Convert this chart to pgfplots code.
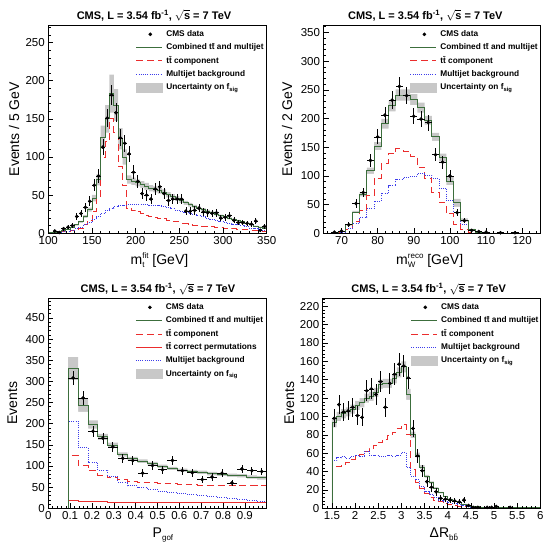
\documentclass[border=0pt]{standalone}
\usepackage{fontspec}
\setmainfont{Liberation Sans}
\usepackage{pgfplots}
\usepackage{pgfplotstable}
\pgfplotsset{compat=1.18}
\definecolor{cgreen}{RGB}{60,110,60}
\definecolor{cred}{RGB}{235,45,45}
\definecolor{cblue}{RGB}{60,60,235}
\definecolor{cband}{RGB}{200,200,200}
\newcommand{\lsub}[1]{\raisebox{-3pt}{\fontsize{8}{8}\selectfont #1}}
\newcommand{\lsup}[1]{\raisebox{6.5pt}{\fontsize{8}{8}\selectfont #1}}

% ---------- panel 1 : m_t^fit ----------
\pgfplotstableread{
x y ex ey
107.5 3 2.5 1.7
112.5 1 2.5 1.0
117.5 6 2.5 2.4
122.5 8 2.5 2.8
127.5 10 2.5 3.2
132.5 22 2.5 4.7
137.5 26 2.5 5.1
142.5 34 2.5 5.8
147.5 42 2.5 6.5
152.5 63 2.5 7.9
157.5 75 2.5 8.7
162.5 113 2.5 10.6
167.5 151 2.5 12.3
172.5 181 2.5 13.5
177.5 158 2.5 12.6
182.5 125 2.5 11.2
187.5 118 2.5 10.9
192.5 104 2.5 10.2
197.5 80 2.5 8.9
202.5 68 2.5 8.2
207.5 52 2.5 7.2
212.5 50 2.5 7.1
217.5 45 2.5 6.7
222.5 58 2.5 7.6
227.5 61 2.5 7.8
232.5 52 2.5 7.2
237.5 43 2.5 6.6
242.5 45 2.5 6.7
247.5 45 2.5 6.7
252.5 45 2.5 6.7
257.5 29 2.5 5.4
262.5 29 2.5 5.4
267.5 30 2.5 5.5
272.5 33 2.5 5.7
277.5 28 2.5 5.3
282.5 27 2.5 5.2
287.5 26 2.5 5.1
292.5 27 2.5 5.2
297.5 20 2.5 4.5
302.5 21 2.5 4.6
307.5 23 2.5 4.8
312.5 17 2.5 4.1
317.5 14 2.5 3.7
322.5 14 2.5 3.7
327.5 13 2.5 3.6
332.5 12 2.5 3.5
337.5 16 2.5 4.0
342.5 4 2.5 2.0
347.5 9 2.5 3.0
}\dataA
\pgfplotstableread{
e tt mj comb lo hi
100 0.5 0.5 1 0.5 1.5
105 0.8 0.8 1.6 1.1 2.1
110 1.2 1.2 2.4 1.9 2.9
115 1.8 1.8 3.6 3.1 4.1
120 2.5 2.8 5.3 4.6 6.0
125 3.5 4 7.5 6.7 8.3
130 5 6 11 10 12
135 7 8 15 13.8 16.2
140 11 11 22 20.2 23.8
145 17 14 31 28.4 33.6
150 28 18 46 41.8 50.2
155 48 22 70 62.8 77.2
160 100 26 126 111 141
165 120 30 150 132 168
170 150 33 183 158 208
175 132 35 167 147 189
180 88 36 124 110 138
185 63 37 100 90 110
190 33 37.5 70.5 65 76
195 30 38 68 63 73
200 28 38 66 61.5 70.5
205 26 38 64 59.5 68.5
210 24 37.5 61.5 57 66
215 22 37 59 55 63
220 21 36.5 57.5 53.5 61.5
225 20 36 56 52 60
230 19 35 54 50.3 57.7
235 17 33.5 50.5 47 54
240 16 32 48 44.7 51.3
245 15 30.5 45.5 42.4 48.6
250 13.5 29 42.5 39.7 45.3
255 12.5 27.5 40 37.4 42.6
260 11.5 26 37.5 35.1 39.9
265 10.5 24.5 35 32.8 37.2
270 10 23 33 31 35
275 9.5 21.5 31 29.1 32.9
280 9 20 29 27.2 30.8
285 8.5 18.5 27 25.3 28.7
290 8 17 25 23.4 26.6
295 7.5 15.5 23 21.5 24.5
300 7 14.5 21.5 20.1 22.9
305 6.5 13 19.5 18.2 20.8
310 6 12 18 16.8 19.2
315 5.5 11 16.5 15.4 17.6
320 5 10 15 14 16
325 4.5 8.5 13 12.1 13.9
330 4 7 11 10.2 11.8
335 3.5 6 9.5 8.8 10.2
340 3 5 8 7.4 8.6
345 2.5 4 6.5 6 7
350 2.5 4 6.5 6 7
}\modA

% ---------- panel 2 : m_W^reco ----------
\pgfplotstableread{
x y ex ey
68 2 1 1.4
70 4 1 2.0
72 15 1 3.9
74 52 1 7.2
76 71 1 8.4
78 127 1 11.3
80 168 1 13.0
82 206 1 14.4
84 232 1 15.2
86 256 1 16.0
88 240 1 15.5
90 204 1 14.3
92 199 1 14.1
94 193 1 13.9
96 137 1 11.7
98 124 1 11.1
100 100 1 10.0
102 36 1 6.0
104 22 1 4.7
106 5 1 2.2
108 3 1 1.7
110 2 1 1.4
114 1 1 1.0
118 1 1 1.0
}\dataB
\pgfplotstableread{
e tt mj comb lo hi
65 0 0 0 0 0
67 0.3 0.3 0.6 0.4 0.8
69 1.5 1.5 3 2.5 3.5
71 7 8 15 14 16
73 20 17 37 35 39
75 40 28 68 64.5 71.5
77 66 43 109 103.5 114.5
79 96 56 152 145 159
81 121 70 191 182.5 199.5
83 139 83 222 212.5 231.5
85 147 94 241 231 251
87 143 98 241 231 251
89 134 99 233 223.5 242.5
91 115 104 219 210.5 227.5
93 96 101 197 189.5 204.5
95 72 96 168 161 175
97 53 79 132 125 139
99 34 57 91 84 98
101 16 37 53 46 60
103 7 16 23 20 26
105 2 4.5 6.5 5.5 7.5
107 0.7 1.3 2 1.6 2.4
109 0.3 0.7 1 0.8 1.2
111 0.2 0.3 0.5 0.4 0.6
113 0.1 0.1 0.2 0.15 0.25
115 0.1 0.1 0.2 0.15 0.25
117 0.1 0.1 0.2 0.15 0.25
119 0.1 0.1 0.2 0.15 0.25
121 0.1 0.1 0.2 0.15 0.25
123 0.1 0.1 0.2 0.15 0.25
125 0.1 0.1 0.2 0.15 0.25
}\modB

% ---------- panel 3 : P_gof ----------
\pgfplotstableread{
x y ex ey
0.1136 308 0.0227 17.5
0.1591 261 0.0227 16.2
0.2045 182 0.0227 13.5
0.2500 166 0.0227 12.9
0.2955 145 0.0227 12.0
0.3409 118 0.0227 10.9
0.3864 113 0.0227 10.6
0.4318 83 0.0227 9.1
0.4773 101 0.0227 10.0
0.5227 91 0.0227 9.5
0.5682 113 0.0227 10.6
0.6136 89 0.0227 9.4
0.6591 84 0.0227 9.2
0.7045 68 0.0227 8.2
0.7500 74 0.0227 8.6
0.7955 83 0.0227 9.1
0.8409 60 0.0227 7.7
0.8864 93 0.0227 9.6
0.9318 89 0.0227 9.4
0.9773 87 0.0227 9.3
}\dataC
\pgfplotstableread{
e tt ttc mj comb lo hi
0 0 0 0 0 0 0
0.04545 0 0 0 0 0 0
0.09091 126 18 206 330 303 357
0.13636 101 17 143 243 228 258
0.18182 89 16 109 198 188 208
0.22727 78 16 90 169 162 176
0.27273 72 15 76 149 143 155
0.31818 67 15 62 127 122 132
0.36364 64 15 53 117 112.5 121.5
0.40909 62 14 49 111 106.5 115.5
0.45455 60 14 45 105 100.5 109.5
0.50000 59 14 41 99 95 103
0.54545 58 14 37 94 90 98
0.59091 57 14 34 90 86 94
0.63636 56 13 32 87 83 91
0.68182 55 13 30 85 81 89
0.72727 55 13 27.5 82 78 86
0.77273 54 13 25.5 80 76 84
0.81818 54 13 23.5 78 74 82
0.86364 53 13 21.5 77 73 81
0.90909 53 13 19 74 70 78
0.95455 53 13 17 72 68 76
1.00000 53 13 17 72 68 76
}\modC

% ---------- panel 4 : Delta R_bb ----------
\pgfplotstableread{
x y ex ey
1.55 98 0.05 9.9
1.65 113 0.05 10.6
1.75 105 0.05 10.2
1.85 106 0.05 10.3
1.95 110 0.05 10.5
2.05 101 0.05 10.0
2.15 99 0.05 9.9
2.25 128 0.05 11.3
2.35 130 0.05 11.4
2.45 124 0.05 11.1
2.55 138 0.05 11.7
2.65 110 0.05 10.5
2.75 136 0.05 11.7
2.85 146 0.05 12.1
2.95 157 0.05 12.5
3.05 155 0.05 12.4
3.15 142 0.05 11.9
3.25 87 0.05 9.3
3.35 57 0.05 7.5
3.45 41 0.05 6.4
3.55 29 0.05 5.4
3.65 23 0.05 4.8
3.75 18 0.05 4.2
3.85 11 0.05 3.3
3.95 10 0.05 3.2
4.05 9 0.05 3.0
4.15 8 0.05 2.8
4.25 7 0.05 2.6
4.35 9 0.05 3.0
4.45 3 0.05 1.7
4.55 1 0.05 1.0
4.65 1 0.05 1.0
4.85 1 0.05 1.0
4.95 1 0.05 1.0
5.05 2 0.05 1.4
5.35 1 0.05 1.0
}\dataD
\pgfplotstableread{
e tt mj comb lo hi
1.3 0 0 0 0 0
1.4 0 0 0 0 0
1.5 44 52 93 88 98
1.6 46 55 100 95 105
1.7 48 56 103 98 108
1.8 50 54 105 100 110
1.9 53 56 108 103 113
2.0 56 58 112 107 117
2.1 59 57 115 110 120
2.2 62 62 120 115 125
2.3 65 58 122 117 127
2.4 68 58 126 121 131
2.5 72 57 135 130 140
2.6 75 57 136 131 141
2.7 79 58 136 131 141
2.8 83 57 141 136 146
2.9 87 58 148 142.5 153.5
3.0 91 61 154 148 160
3.1 80 45 124 118 130
3.2 42 35 80 76.5 83.5
3.3 28 31 58 55.5 60.5
3.4 22 24 45 43 47
3.5 16 18 35 33.5 36.5
3.6 12 15 28 26.8 29.2
3.7 9 12 22 21 23
3.8 7 9 17 16.2 17.8
3.9 5 7 13 12.4 13.6
4.0 4 6 10 9.5 10.5
4.1 3 5 8 7.6 8.4
4.2 2.5 4 6 5.7 6.3
4.3 2 3 4.5 4.3 4.7
4.4 1.5 2 3 2.8 3.2
4.5 1 1.3 2 1.9 2.1
4.6 0.7 0.8 1.5 1.4 1.6
4.7 0.5 0.5 1 0.95 1.05
4.8 0.3 0.3 0.6 0.55 0.65
4.9 0.2 0.2 0.4 0.35 0.45
5.0 0.2 0.2 0.4 0.35 0.45
5.1 0.2 0.2 0.4 0.35 0.45
5.2 0.2 0.2 0.4 0.35 0.45
5.3 0.2 0.2 0.4 0.35 0.45
5.4 0.2 0.2 0.4 0.35 0.45
5.5 0.2 0.2 0.4 0.35 0.45
5.6 0.2 0.2 0.4 0.35 0.45
5.7 0.2 0.2 0.4 0.35 0.45
5.8 0.2 0.2 0.4 0.35 0.45
5.9 0.2 0.2 0.4 0.35 0.45
6.0 0.2 0.2 0.4 0.35 0.45
}\modD

\pgfplotsset{
  cms/.style={
    scale only axis, axis on top,
    axis line style={line width=0.7pt, black},
    tick pos=left, tick align=inside,
    major tick length=5pt, minor tick length=2.5pt,
    every tick/.style={black, line width=0.5pt},
    ticklabel style={font=\fontsize{11.5}{13}\selectfont},
    /pgf/number format/assume math mode=true,
    scaled ticks=false,
    label style={font=\fontsize{14}{17}\selectfont},
    ylabel style={anchor=center},
    xlabel style={anchor=base},
    every axis title shift=0pt,
    title style={font=\bfseries\fontsize{11}{13}\selectfont, anchor=center},
    legend cell align=left,
    legend style={draw=none, fill=none, anchor=north west, inner sep=0pt,
      font=\bfseries\fontsize{8.3}{10}\selectfont,
      row sep=3.8pt, column sep=3pt,
      nodes={inner sep=0.5pt, text height=6.5pt, text depth=2pt}},
    legend image code/.code={\draw[#1] (0pt,0pt) -- (26pt,0pt);},
  },
  legdata/.style={only marks, mark=*, mark size=1.6pt, black,
    legend image code/.code={\draw[mark repeat=2,mark phase=2,##1] plot coordinates {(0pt,0pt) (14pt,0pt) (26pt,0pt)};}},
  legband/.style={legend image code/.code={\fill[cband] (0pt,-4.5pt) rectangle (26pt,4.5pt);}},
  greenl/.style={cgreen, line width=0.9pt},
  redl/.style={cred, line width=0.9pt, dash pattern=on 7pt off 4pt},
  reds/.style={cred, line width=0.9pt},
  bluel/.style={cblue, line width=0.9pt, dash pattern=on 1pt off 1.2pt},
  bandhi/.style={ybar interval, fill=cband, draw=none, forget plot},
  bandlo/.style={ybar interval, fill=white, draw=none, forget plot},
  datast/.style={only marks, mark=*, mark size=1.6pt, black,
    /pgfplots/error bars/x dir=both, /pgfplots/error bars/x explicit,
    /pgfplots/error bars/y dir=both, /pgfplots/error bars/y explicit,
    /pgfplots/error bars/error mark=none,
    /pgfplots/error bars/error bar style={line width=0.7pt, black}},
}

\begin{document}
\begin{tikzpicture}
\useasboundingbox (0,0) rectangle (544pt,546pt);

% ================= panel 1 =================
\begin{axis}[cms, at={(48.3pt,312.7pt)}, anchor=south west, width=218.4pt, height=208.3pt,
  xmin=100, xmax=350, ymin=0, ymax=273,
  xtick={100,150,...,350}, minor xtick={110,120,...,340},
  ytick={0,50,...,250}, minor ytick={10,20,...,270},
  title={CMS, L = 3.54 fb\textsuperscript{-1}, \ensuremath{\sqrt{\mbox{\bfseries s}}} = 7 TeV},
  title style={at={(axis description cs:0.484,1.045)}},
  xlabel={m\rlap{\lsub{t}}\lsup{fit} [GeV]},
  xlabel style={at={(axis description cs:0.509,-0.152)}},
  ylabel={Events / 5 GeV},
  ylabel style={at={(axis description cs:-0.157,0.5)}},
  legend style={at={(axis description cs:0.40,0.979)}},
]
\addlegendimage{legdata}
\addlegendentry{CMS data}
\addlegendimage{greenl}
\addlegendentry{Combined t\=t and multijet}
\addlegendimage{redl}
\addlegendentry{t\=t component}
\addlegendimage{bluel}
\addlegendentry{Multijet background}
\addlegendimage{legband}
\addlegendentry{Uncertainty on f\textsubscript{sig}}
\addplot[bandhi] table[x=e, y=hi] {\modA};
\addplot[bandlo] table[x=e, y=lo] {\modA};
\addplot[redl, const plot mark left, forget plot] table[x=e, y=tt] {\modA};
\addplot[bluel, const plot mark left, forget plot] table[x=e, y=mj] {\modA};
\addplot[greenl, const plot mark left, forget plot] table[x=e, y=comb] {\modA};
\addplot[forget plot, datast] table[x=x, y=y, x error=ex, y error=ey] {\dataA};
\end{axis}

% ================= panel 2 =================
\begin{axis}[cms, at={(323.5pt,312.7pt)}, anchor=south west, width=216.7pt, height=208.3pt,
  xmin=65, xmax=125, ymin=0, ymax=363,
  xtick={70,80,...,120}, minor xtick={66,68,...,124},
  ytick={0,50,...,350}, minor ytick={10,20,...,360},
  title={CMS, L = 3.54 fb\textsuperscript{-1}, \ensuremath{\sqrt{\mbox{\bfseries s}}} = 7 TeV},
  title style={at={(axis description cs:0.47,1.045)}},
  xlabel={m\rlap{\lsub{W}}\lsup{reco} [GeV]},
  xlabel style={at={(axis description cs:0.49,-0.152)}},
  ylabel={Events / 2 GeV},
  ylabel style={at={(axis description cs:-0.168,0.5)}},
  legend style={at={(axis description cs:0.398,0.979)}},
]
\addlegendimage{legdata}
\addlegendentry{CMS data}
\addlegendimage{greenl}
\addlegendentry{Combined t\=t and multijet}
\addlegendimage{redl}
\addlegendentry{t\=t component}
\addlegendimage{bluel}
\addlegendentry{Multijet background}
\addlegendimage{legband}
\addlegendentry{Uncertainty on f\textsubscript{sig}}
\addplot[bandhi] table[x=e, y=hi] {\modB};
\addplot[bandlo] table[x=e, y=lo] {\modB};
\addplot[redl, const plot mark left, forget plot] table[x=e, y=tt] {\modB};
\addplot[bluel, const plot mark left, forget plot] table[x=e, y=mj] {\modB};
\addplot[greenl, const plot mark left, forget plot] table[x=e, y=comb] {\modB};
\addplot[forget plot, datast] table[x=x, y=y, x error=ex, y error=ey] {\dataB};
\end{axis}

% ================= panel 3 =================
\begin{axis}[cms, at={(48.3pt,37.7pt)}, anchor=south west, width=218.4pt, height=210.3pt,
  xmin=0, xmax=1, ymin=0, ymax=497,
  xtick={0,0.1,0.2,0.3,0.4,0.5,0.6,0.7,0.8,0.9}, minor xtick={0.02,0.04,...,0.99},
  ytick={0,50,...,450}, minor ytick={10,20,...,490},
  title={CMS, L = 3.54 fb\textsuperscript{-1}, \ensuremath{\sqrt{\mbox{\bfseries s}}} = 7 TeV},
  title style={at={(axis description cs:0.502,1.041)}},
  xlabel={P\lsub{gof}},
  xlabel style={at={(axis description cs:0.525,-0.14)}},
  ylabel={Events},
  ylabel style={at={(axis description cs:-0.164,0.5)}},
  legend style={at={(axis description cs:0.398,0.979)}},
]
\addlegendimage{legdata}
\addlegendentry{CMS data}
\addlegendimage{greenl}
\addlegendentry{Combined t\=t and multijet}
\addlegendimage{redl}
\addlegendentry{t\=t component}
\addlegendimage{reds}
\addlegendentry{t\=t correct permutations}
\addlegendimage{bluel}
\addlegendentry{Multijet background}
\addlegendimage{legband}
\addlegendentry{Uncertainty on f\textsubscript{sig}}
\addplot[bandhi] table[x=e, y=hi] {\modC};
\addplot[bandlo] table[x=e, y=lo] {\modC};
\addplot[reds, const plot mark left, forget plot] table[x=e, y=ttc] {\modC};
\addplot[redl, const plot mark left, forget plot] table[x=e, y=tt] {\modC};
\addplot[bluel, const plot mark left, forget plot] table[x=e, y=mj] {\modC};
\addplot[greenl, const plot mark left, forget plot] table[x=e, y=comb] {\modC};
\addplot[forget plot, datast] table[x=x, y=y, x error=ex, y error=ey] {\dataC};
\end{axis}

% ================= panel 4 =================
\begin{axis}[cms, at={(322.7pt,37.7pt)}, anchor=south west, width=217.6pt, height=210.3pt,
  xmin=1.3, xmax=6, ymin=0, ymax=229,
  xtick={1.5,2,2.5,3,3.5,4,4.5,5,5.5,6}, minor xtick={1.4,1.5,...,5.95},
  ytick={0,20,...,220}, minor ytick={4,8,...,228},
  title={CMS, L = 3.54 fb\textsuperscript{-1}, \ensuremath{\sqrt{\mbox{\bfseries s}}} = 7 TeV},
  title style={at={(axis description cs:0.487,1.041)}},
  xlabel={ΔR\lsub{b\=b}},
  xlabel style={at={(axis description cs:0.557,-0.14)}},
  ylabel={Events},
  ylabel style={at={(axis description cs:-0.153,0.5)}},
  legend style={at={(axis description cs:0.404,0.979)}},
]
\addlegendimage{legdata}
\addlegendentry{CMS data}
\addlegendimage{greenl}
\addlegendentry{Combined t\=t and multijet}
\addlegendimage{redl}
\addlegendentry{t\=t component}
\addlegendimage{bluel}
\addlegendentry{Multijet background}
\addlegendimage{legband}
\addlegendentry{Uncertainty on f\textsubscript{sig}}
\addplot[bandhi] table[x=e, y=hi] {\modD};
\addplot[bandlo] table[x=e, y=lo] {\modD};
\addplot[redl, const plot mark left, forget plot] table[x=e, y=tt] {\modD};
\addplot[bluel, const plot mark left, forget plot] table[x=e, y=mj] {\modD};
\addplot[greenl, const plot mark left, forget plot] table[x=e, y=comb] {\modD};
\addplot[forget plot, datast] table[x=x, y=y, x error=ex, y error=ey] {\dataD};
\end{axis}
\end{tikzpicture}
\end{document}
